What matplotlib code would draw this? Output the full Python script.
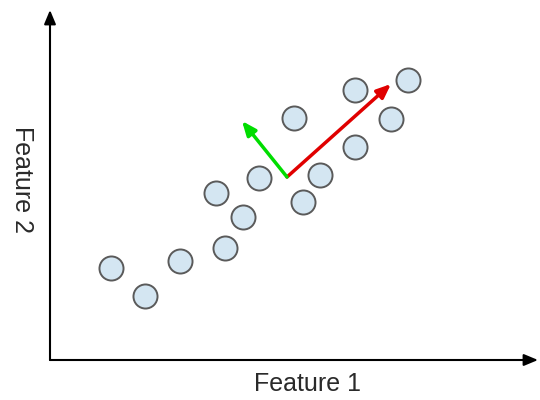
import matplotlib.pyplot as plt

# Sample points (Feature 1, Feature 2)
feature_1 = [6.1, 9.5, 13.0, 17.5, 16.6, 19.3, 20.9, 24.4, 25.3, 27.0, 30.5, 30.5, 34.1, 35.8]
feature_2 = [9.2, 6.4, 9.9, 11.2, 16.7, 14.3, 18.2, 24.2, 15.8, 18.5, 27.0, 21.3, 24.1, 28.0]

# Principal directions drawn from the mean point
origin = (23.7, 18.3)
pc1_tip = (34.1, 27.6)
pc2_tip = (19.2, 23.9)

# Axis extents
x_axis_end = 48.8
y_axis_end = 35.0

fig = plt.figure(figsize=(5.4, 4.0), dpi=100)
ax = fig.add_axes([0, 0, 1, 1])
ax.set_xlim(-5, 49)
ax.set_ylim(-4, 36)
ax.axis('off')

# Axes with arrow heads
axis_arrow = dict(arrowstyle='-|>,head_length=0.6,head_width=0.25', color='black',
                  lw=1.5, mutation_scale=14, shrinkA=0, shrinkB=0)
ax.annotate('', xy=(x_axis_end, 0), xytext=(0, 0), arrowprops=axis_arrow)
ax.annotate('', xy=(0, y_axis_end), xytext=(0, 0), arrowprops=axis_arrow)

# Data points
ax.scatter(feature_1, feature_2, s=300, c='#d4e6f2', edgecolors='#5a5a5a',
           linewidths=1.4, zorder=3)

# Principal component arrows
ax.annotate('', xy=pc1_tip, xytext=origin,
            arrowprops=dict(arrowstyle='-|>,head_length=0.6,head_width=0.25',
                            color='#e00000', lw=2.5, mutation_scale=14,
                            shrinkA=0, shrinkB=0), zorder=4)
ax.annotate('', xy=pc2_tip, xytext=origin,
            arrowprops=dict(arrowstyle='-|>,head_length=0.6,head_width=0.25',
                            color='#00dd00', lw=2.5, mutation_scale=14,
                            shrinkA=0, shrinkB=0), zorder=4)

# Axis labels
ax.text(25.8, -2.4, 'Feature 1', ha='center', va='center', fontsize=18,
        color='#2a2a2a', family='Liberation Sans')
ax.text(-2.8, 18.0, 'Feature 2', ha='center', va='center', fontsize=18,
        color='#2a2a2a', family='Liberation Sans', rotation=-90)

fig.savefig('out.png', dpi=100)
